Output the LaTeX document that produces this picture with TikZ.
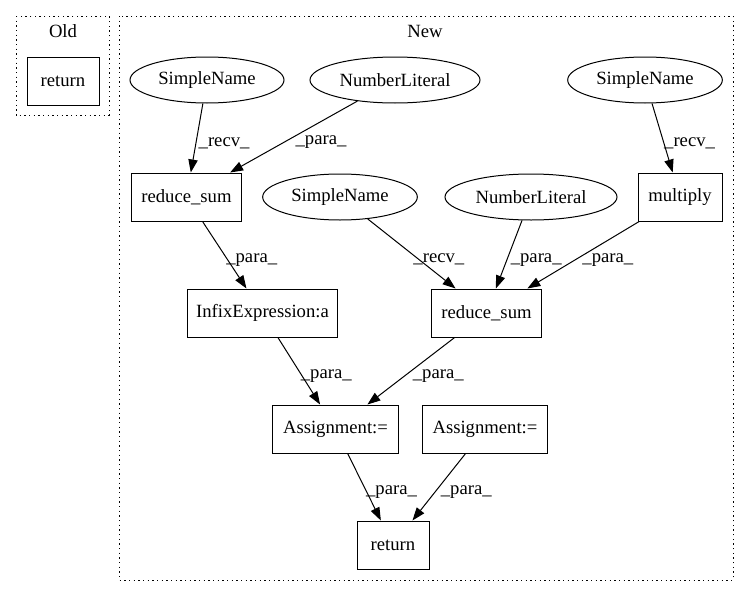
\documentclass[tikz,border=0pt]{standalone}
\usepackage{fontspec}
\setmainfont{Liberation Serif}
\usetikzlibrary{shapes,arrows.meta}
\tikzstyle{cluster} = [draw, dash pattern=on 0.9pt off 2.6pt, line width=0.75pt]
\tikzstyle{ast} = [draw, ellipse, line width=0.75pt, inner sep=0pt, minimum height=34.5pt]
\tikzstyle{stmt} = [draw, rectangle, line width=0.75pt, inner sep=0pt, minimum height=36pt]
\tikzstyle{lbl} = [anchor=west, inner sep=1pt, yshift=-4pt]

\begin{document}
\begin{tikzpicture}[x=0.75pt,y=-0.75pt,>={Triangle[length=9.75pt,width=7pt]},
    font=\fontsize{14}{16}\selectfont]
   \useasboundingbox (0,0) rectangle (749,596);
   % clusters
   \draw[cluster] (16,16) rectangle (109,115);
   \node (oldlbl) at (63,31) {Old};
   \draw[cluster] (119,16) rectangle (733,580);
   \node (newlbl) at (425,31) {New};

   \node[stmt, minimum width=54pt] (oldret) at (63,81) {return};

   \node[ast, minimum width=115.5pt] (sn1) at (207,80) {SimpleName};
   \node[ast, minimum width=127.5pt] (nl1) at (395,80) {NumberLiteral};
   \node[ast, minimum width=116pt] (sn3) at (645,80) {SimpleName};
   \node[stmt, minimum width=83pt] (rs1) at (186.5,197) {reduce\_sum};
   \node[ast, minimum width=116pt] (sn2) at (340,197) {SimpleName};
   \node[ast, minimum width=129pt] (nl2) at (531,197) {NumberLiteral};
   \node[stmt, minimum width=63pt] (mul) at (680,197) {multiply};
   \node[stmt, minimum width=112.5pt] (infix) at (262.5,313) {InfixExpression:a};
   \node[stmt, minimum width=83pt] (rs2) at (486.5,313) {reduce\_sum};
   \node[stmt, minimum width=94pt] (as1) at (335.5,429) {Assignment:=};
   \node[stmt, minimum width=94pt] (as2) at (485,429) {Assignment:=};
   \node[stmt, minimum width=54pt] (ret) at (393,545) {return};

   \path[->, line width=0.75pt] (sn1) edge node[lbl]{\_recv\_} (rs1)
      (nl1) edge node[lbl]{\_para\_} (rs1)
      (sn3) edge node[lbl]{\_recv\_} (mul)
      (rs1) edge node[lbl]{\_para\_} (infix)
      (sn2) edge node[lbl]{\_recv\_} (rs2)
      (nl2) edge node[lbl]{\_para\_} (rs2)
      (mul) edge node[lbl, xshift=-2pt]{\_para\_} (rs2)
      (infix) edge node[lbl]{\_para\_} (as1)
      (rs2) edge node[lbl]{\_para\_} (as1)
      (as1) edge node[lbl]{\_para\_} (ret)
      (as2) edge node[lbl]{\_para\_} (ret);
\end{tikzpicture}
\end{document}
